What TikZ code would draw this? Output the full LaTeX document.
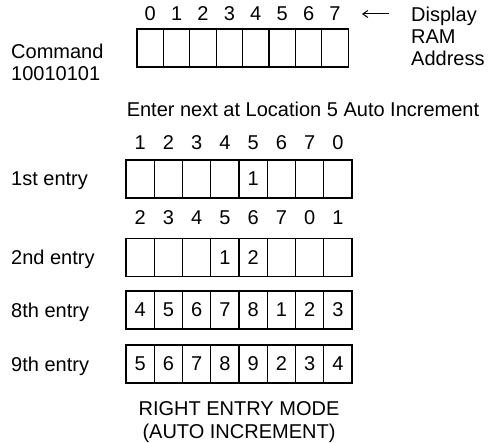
\documentclass[tikz,border=0pt]{standalone}
\usepackage{fontspec}
\setmainfont{Liberation Sans}
\usetikzlibrary{arrows.meta}
\newcommand{\dispfont}{\fontsize{20}{24}\selectfont}
\tikzset{
  cell/.style={draw, line width=1.3pt, minimum width=#1, minimum height=38pt,
    inner sep=0pt, font=\dispfont},
  idx/.style={inner sep=0pt, font=\dispfont},
  lbl/.style={anchor=base west, inner sep=0pt, font=\dispfont},
}

\begin{document}
\begin{tikzpicture}[x=1pt,y=-1pt]
  \useasboundingbox (0,0) rectangle (497,443);
  % command row with the RAM addresses
  \foreach \i in {0,...,7} {
    \node[idx] (top\i) at ({150.2+26.4*\i},14) {\i};
    \node[cell=26.4pt] (ram\i) at ({150.2+26.4*\i},48) {};
  }
  \node[lbl] (cmd)  at (11,59) {Command};
  \node[lbl] (code) at (11,81) {10010101};
  \node[lbl] (disp) at (411,22) {Display};
  \node[lbl] (ram)  at (411,44) {RAM};
  \node[lbl] (addr) at (411,66) {Address};
  \coordinate (arrS) at (389,14);
  \coordinate (arrE) at (362,14);
  \draw[line width=1pt,-{Straight Barb[length=5pt,width=7pt]}] (arrS) -- (arrE);
  \node[idx,anchor=base] (enter) at (303,117) {Enter next at Location 5 Auto Increment};
  % address labels above the entry rows
  \foreach \n [count=\k from 0] in {1,2,3,4,5,6,7,0}
    \node[idx] (ia\k) at ({140.1+28.25*\k},143) {\n};
  \foreach \n [count=\k from 0] in {2,3,4,5,6,7,0,1}
    \node[idx] (ib\k) at ({140.1+28.25*\k},218) {\n};
  % entries
  \foreach \d [count=\k from 0] in {{},{},{},{},1,{},{},{}}
    \node[cell=28.25pt] (first\k) at ({140.1+28.25*\k},179) {\d};
  \foreach \d [count=\k from 0] in {{},{},{},1,2,{},{},{}}
    \node[cell=28.25pt] (second\k) at ({140.1+28.25*\k},257.5) {\d};
  \foreach \d [count=\k from 0] in {4,5,6,7,8,1,2,3}
    \node[cell=28.25pt] (eighth\k) at ({140.1+28.25*\k},310) {\d};
  \foreach \d [count=\k from 0] in {5,6,7,8,9,2,3,4}
    \node[cell=28.25pt] (ninth\k) at ({140.1+28.25*\k},364) {\d};
  \node[lbl] (l1) at (11,186) {1st entry};
  \node[lbl] (l2) at (11,265) {2nd entry};
  \node[lbl] (l8) at (11,317) {8th entry};
  \node[lbl] (l9) at (11,371) {9th entry};
  \node[idx,anchor=base] (mode) at (239,415) {RIGHT ENTRY MODE};
  \node[idx,anchor=base] (auto) at (239,438) {(AUTO INCREMENT)};
\end{tikzpicture}
\end{document}
